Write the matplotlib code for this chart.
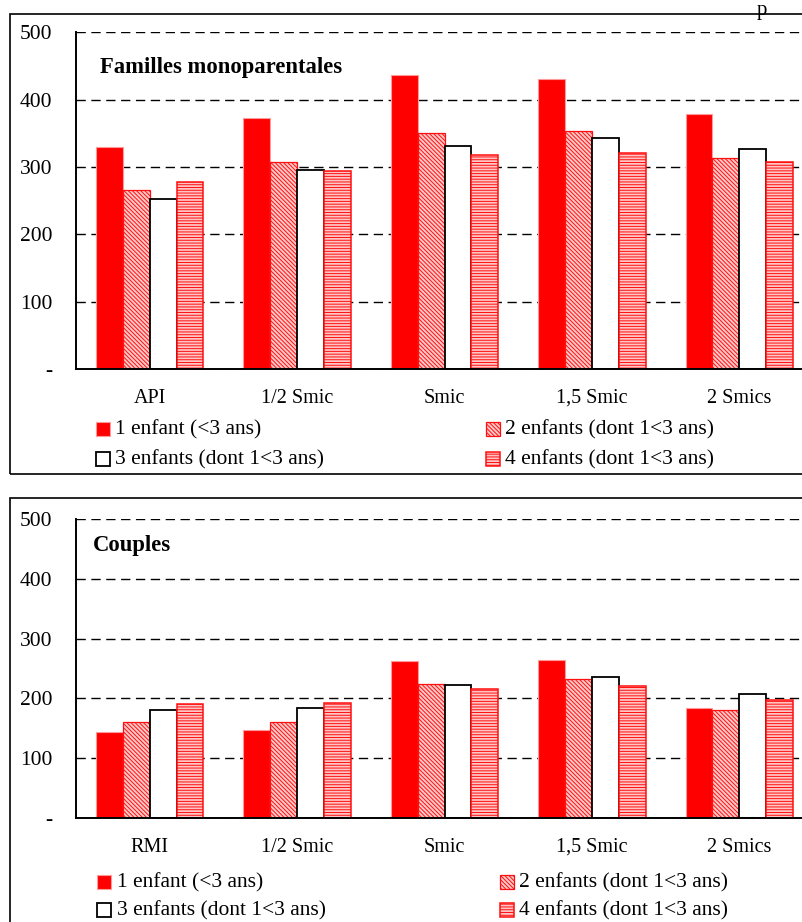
import matplotlib
matplotlib.use("Agg")
import matplotlib.pyplot as plt
from matplotlib.patches import Rectangle
import numpy as np

plt.rcParams['font.family'] = ['Liberation Serif', 'DejaVu Serif']
plt.rcParams['lines.scale_dashes'] = False
plt.rcParams['hatch.linewidth'] = 0.7

# ---- data ----
series = ["1 enfant (<3 ans)", "2 enfants (dont 1<3 ans)",
          "3 enfants (dont 1<3 ans)", "4 enfants (dont 1<3 ans)"]

cats_mono = ["API", "1/2 Smic", "Smic", "1,5 Smic", "2 Smics"]
mono_1 = [330, 373, 436, 431, 379]
mono_2 = [266, 307, 351, 354, 313]
mono_3 = [253, 296, 331, 343, 326]
mono_4 = [278, 294, 318, 321, 307]

cats_couple = ["RMI", "1/2 Smic", "Smic", "1,5 Smic", "2 Smics"]
couple_1 = [144, 147, 262, 265, 183]
couple_2 = [161, 161, 224, 233, 180]
couple_3 = [180, 183, 223, 236, 207]
couple_4 = [190, 192, 215, 221, 198]

yticks = [0, 100, 200, 300, 400, 500]
ytick_labels = ["-", "100", "200", "300", "400", "500"]

# ---- styles ----
styles = [
    dict(facecolor="#ff0000", edgecolor="#ff9a9a", linewidth=0.8),
    dict(facecolor="#ffc8c8", edgecolor="#ff1010", linewidth=0.9, hatch="\\\\\\\\\\\\\\\\"),
    dict(facecolor="white", edgecolor="black", linewidth=1.3),
    dict(facecolor="#ffc4c4", edgecolor="#ff1010", linewidth=1.1, hatch="------"),
]

W, H = 802, 922
fig = plt.figure(figsize=(W / 100, H / 100), dpi=100)

def fx(px):
    return px / W

def fy(py):
    return 1 - py / H

# outer boxes
fig.add_artist(Rectangle((fx(10), fy(474)), 1.0, (474 - 14) / H, transform=fig.transFigure,
                         fill=False, edgecolor="black", linewidth=1.2))
fig.add_artist(Rectangle((fx(10), -0.02), 1.0, fy(498) + 0.02, transform=fig.transFigure,
                         fill=False, edgecolor="black", linewidth=1.2))

# text fragment at top right of page
fig.text(fx(757), fy(0.5), "p", fontsize=15, ha="left", va="top")

def panel(top_px, bottom_px, cats, vals, title, title_xy, leg_rows, leg_cols, leg_sq):
    ax = fig.add_axes([fx(76), fy(bottom_px), fx(813) - fx(76), (bottom_px - top_px) / H])
    x = np.arange(len(cats))
    w = 0.182
    for k, (v, st) in enumerate(zip(vals, styles)):
        ax.bar(x + (k - 1.5) * w, v, width=w, zorder=3, **st)
    ax.set_xlim(-0.5, len(cats) - 0.5)
    ax.set_ylim(0, 500)
    ax.set_yticks(yticks)
    ax.set_yticklabels(ytick_labels)
    ax.set_xticks(x)
    ax.set_xticklabels(cats)
    ax.tick_params(axis="y", length=0, pad=17, labelsize=15.5)
    ax.tick_params(axis="x", length=0, pad=24.5, labelsize=14.5)
    for lab in ax.get_xticklabels():
        lab.set_verticalalignment("baseline")
    for s in ["top", "right"]:
        ax.spines[s].set_visible(False)
    for s in ["left", "bottom"]:
        ax.spines[s].set_linewidth(1.4)
        ax.spines[s].set_zorder(4)
    ax.yaxis.grid(True, color="black", linewidth=1.0, linestyle=(0, (6.7, 4.0)), zorder=1)
    ax.set_axisbelow(True)
    fig.text(fx(title_xy[0]), fy(title_xy[1]), title, fontsize=16.3, fontweight="bold",
             ha="left", va="center")
    # legend
    order = [(0, 0, 0), (1, 0, 1), (2, 1, 0), (3, 1, 1)]
    for k, r, c in order:
        sx, tx = leg_cols[c]
        sy = leg_rows[r]
        st = dict(styles[k])
        fig.add_artist(Rectangle((fx(sx), fy(sy + leg_sq / 2)), leg_sq / W, leg_sq / H,
                                 transform=fig.transFigure, **st))
        fig.text(fx(tx), fy(sy + 1.0), series[k], fontsize=15.5, ha="left", va="center")
    return ax

panel(32.3, 369, cats_mono, [mono_1, mono_2, mono_3, mono_4],
      "Familles monoparentales", (100, 68),
      leg_rows=[429, 459], leg_cols=[(96, 115), (486, 505)], leg_sq=14)

panel(519.3, 817.7, cats_couple, [couple_1, couple_2, couple_3, couple_4],
      "Couples", (93, 545),
      leg_rows=[882, 909.5], leg_cols=[(97, 117), (500, 519)], leg_sq=14)

fig.savefig("out.png", dpi=100)
